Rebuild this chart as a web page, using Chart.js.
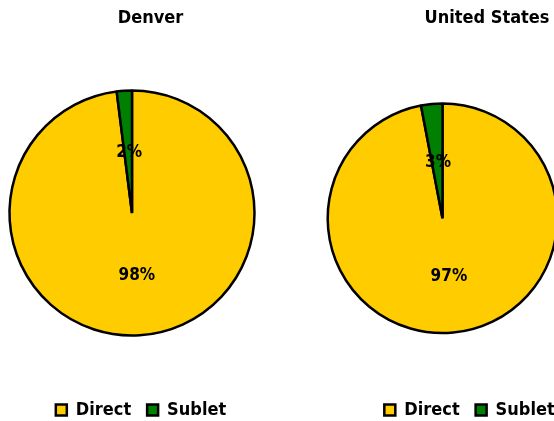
<!DOCTYPE html>
<html>
<head>
<meta charset="utf-8">
<script src="https://cdn.jsdelivr.net/npm/chart.js@4.4.1/dist/chart.umd.min.js"></script>
<style>
  html, body { margin: 0; padding: 0; background: #fff; overflow: hidden; width: 554px; height: 421px; }
  canvas { position: absolute; top: 0; }
  #denver { left: 0; }
  #us { left: 300px; }
</style>
</head>
<body>
<canvas id="denver" width="264" height="429"></canvas>
<canvas id="us" width="285" height="429"></canvas>
<script>
var categories = ['Direct', 'Sublet'];
var denverShare = [98, 2];
var usShare = [97, 3];
var sliceColors = ['#FFCC00', '#008000'];

var FONT = '"DejaVu Sans Condensed", "DejaVu Sans", sans-serif';

// percentage text in the middle of each wedge
var sliceLabels = {
    id: 'sliceLabels',
    afterDatasetsDraw: function (chart) {
        var ctx = chart.ctx;
        var values = chart.data.datasets[0].data;
        ctx.save();
        ctx.font = 'bold 17px ' + FONT;
        ctx.fillStyle = '#000';
        ctx.textAlign = 'center';
        ctx.textBaseline = 'middle';
        chart.getDatasetMeta(0).data.forEach(function (arc, i) {
            var p = arc.tooltipPosition();
            ctx.fillText(values[i] + '%', p.x + 1, p.y + 1);
        });
        ctx.restore();
    }
};

// title and legend sit a bit to the right of the pie
var shiftBoxes = {
    id: 'shiftBoxes',
    afterLayout: function (chart, args, opts) {
        var t = chart.titleBlock, l = chart.legend;
        t.left += opts.title; t.right += opts.title;
        l.left += opts.legend; l.right += opts.legend;
    }
};

function makePie(id, title, values, radius, titleGap, shift) {
    return new Chart(document.getElementById(id), {
        type: 'pie',
        data: {
            labels: categories,
            datasets: [{
                data: values,
                backgroundColor: sliceColors,
                borderColor: '#000',
                borderWidth: 2.5,
                radius: radius
            }]
        },
        options: {
            responsive: false,
            animation: false,
            events: [],
            layout: { padding: 0 },
            plugins: {
                title: {
                    display: true,
                    text: title,
                    color: '#000',
                    font: { family: FONT, size: 18, weight: 'bold', lineHeight: 1.2 },
                    padding: { top: 8, bottom: titleGap }
                },
                legend: {
                    position: 'bottom',
                    labels: {
                        color: '#000',
                        boxWidth: 11,
                        boxHeight: 11,
                        padding: 16,
                        font: { family: FONT, size: 18, weight: 'bold' }
                    }
                },
                tooltip: { enabled: false },
                shiftBoxes: shift
            }
        },
        plugins: [sliceLabels, shiftBoxes]
    });
}

makePie('denver', 'Denver', denverShare, 122.5, 11.4, { title: 18.5, legend: 9 });
makePie('us', 'United States', usShare, 114.8, 22.0, { title: 44.5, legend: 27 });
</script>
</body>
</html>
